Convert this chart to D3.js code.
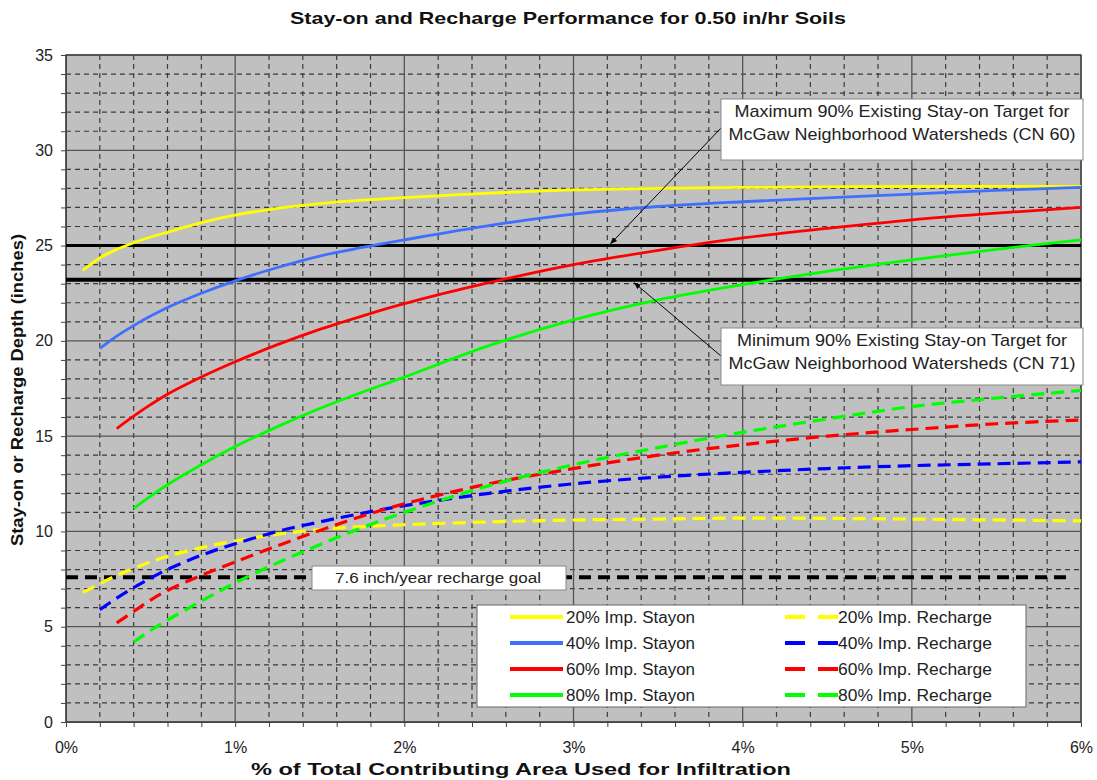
<!DOCTYPE html>
<html>
<head>
<meta charset="utf-8">
<script src="https://cdn.jsdelivr.net/npm/d3@7"></script>
<style>
  body { margin: 0; background: #fff; }
  svg { font-family: "Liberation Sans", Arial, sans-serif; }
</style>
</head>
<body>
<svg id="chart" width="1097" height="780"></svg>
<script>
// area used for infiltration, in %
var xStay20 = [0.1, 0.2, 0.3, 0.4, 0.5, 0.6, 0.8, 1.0, 1.25, 1.5, 1.75, 2.0, 2.5, 3.0, 3.5, 4.0, 5.0, 6.0],
    stay20  = [23.7, 24.35, 24.8, 25.15, 25.45, 25.7, 26.2, 26.6, 26.95, 27.2, 27.38, 27.52, 27.75, 27.92, 28.0, 28.05, 28.1, 28.1];

var xStay40 = [0.2, 0.3, 0.4, 0.5, 0.6, 0.8, 1.0, 1.25, 1.5, 1.75, 2.0, 2.5, 3.0, 3.5, 4.0, 4.5, 5.0, 5.5, 6.0],
    stay40  = [19.6, 20.25, 20.8, 21.3, 21.75, 22.5, 23.15, 23.85, 24.45, 24.9, 25.3, 26.05, 26.65, 27.05, 27.3, 27.5, 27.7, 27.9, 28.05];

var xStay60 = [0.3, 0.4, 0.5, 0.6, 0.8, 1.0, 1.25, 1.5, 1.75, 2.0, 2.5, 3.0, 3.5, 4.0, 4.5, 5.0, 5.5, 6.0],
    stay60  = [15.4, 16.05, 16.65, 17.2, 18.1, 18.9, 19.8, 20.6, 21.3, 21.95, 23.05, 24.0, 24.75, 25.4, 25.9, 26.35, 26.7, 27.0];

var xStay80 = [0.4, 0.5, 0.6, 0.8, 1.0, 1.25, 1.5, 1.75, 2.0, 2.5, 3.0, 3.5, 4.0, 4.5, 5.0, 5.5, 6.0],
    stay80  = [11.2, 11.85, 12.45, 13.5, 14.45, 15.5, 16.45, 17.3, 18.1, 19.75, 21.1, 22.15, 22.95, 23.65, 24.25, 24.8, 25.3];

var xRech20 = [0.1, 0.2, 0.3, 0.4, 0.5, 0.6, 0.8, 1.0, 1.25, 1.5, 1.75, 2.0, 2.5, 3.0, 3.5, 4.0, 5.0, 6.0],
    rech20  = [6.8, 7.25, 7.7, 8.05, 8.4, 8.7, 9.15, 9.5, 9.85, 10.1, 10.25, 10.35, 10.5, 10.6, 10.65, 10.7, 10.65, 10.55];

var xRech40 = [0.2, 0.3, 0.4, 0.5, 0.6, 0.8, 1.0, 1.25, 1.5, 1.75, 2.0, 2.5, 3.0, 3.5, 4.0, 4.5, 5.0, 5.5, 6.0],
    rech40  = [5.9, 6.5, 7.05, 7.55, 8.0, 8.75, 9.35, 10.0, 10.5, 10.95, 11.35, 12.0, 12.5, 12.85, 13.1, 13.3, 13.45, 13.55, 13.65];

var xRech60 = [0.3, 0.4, 0.5, 0.6, 0.8, 1.0, 1.25, 1.5, 1.75, 2.0, 2.5, 3.0, 3.5, 4.0, 4.5, 5.0, 5.5, 6.0],
    rech60  = [5.2, 5.8, 6.4, 6.9, 7.7, 8.4, 9.25, 10.05, 10.8, 11.45, 12.5, 13.3, 14.0, 14.55, 15.0, 15.35, 15.65, 15.85];

var xRech80 = [0.4, 0.5, 0.6, 0.8, 1.0, 1.25, 1.5, 1.75, 2.0, 2.5, 3.0, 3.5, 4.0, 4.5, 5.0, 5.5, 6.0],
    rech80  = [4.2, 4.8, 5.35, 6.35, 7.3, 8.35, 9.3, 10.2, 11.0, 12.4, 13.5, 14.4, 15.2, 15.9, 16.55, 17.0, 17.4];

var targetMax = 25.0,      // CN 60
    targetMin = 23.2,      // CN 71
    rechargeGoal = 7.6,
    goalEnd = 5.95;

var xTicks = [0, 1, 2, 3, 4, 5, 6],
    yTicks = [0, 5, 10, 15, 20, 25, 30, 35];

var seriesNames = ["20% Imp. Stayon", "40% Imp. Stayon", "60% Imp. Stayon", "80% Imp. Stayon",
                   "20% Imp. Recharge", "40% Imp. Recharge", "60% Imp. Recharge", "80% Imp. Recharge"];

var series = [
    { name: seriesNames[0], xs: xStay20, ys: stay20, color: "#ffff00", dash: null },
    { name: seriesNames[1], xs: xStay40, ys: stay40, color: "#3f6fff", dash: null },
    { name: seriesNames[2], xs: xStay60, ys: stay60, color: "#ff0000", dash: null },
    { name: seriesNames[3], xs: xStay80, ys: stay80, color: "#00ff00", dash: null },
    { name: seriesNames[4], xs: xRech20, ys: rech20, color: "#ffff00", dash: "13,7" },
    { name: seriesNames[5], xs: xRech40, ys: rech40, color: "#0000ff", dash: "13,7" },
    { name: seriesNames[6], xs: xRech60, ys: rech60, color: "#ff0000", dash: "13,7" },
    { name: seriesNames[7], xs: xRech80, ys: rech80, color: "#00ff00", dash: "13,7" }
];

var svg = d3.select("#chart"),
    plotL = 66, plotR = 1081, plotT = 55, plotB = 722;

var x = d3.scaleLinear().domain([0, 6]).range([plotL, plotR]),
    y = d3.scaleLinear().domain([0, 35]).range([plotB, plotT]);

svg.append("rect")
    .attr("x", plotL).attr("y", plotT)
    .attr("width", plotR - plotL).attr("height", plotB - plotT)
    .attr("fill", "#c0c0c0");

// minor grid (dashed)
var minorX = d3.range(0, 31).map(function (i) { return i * 0.2; }).filter(function (v, i) { return i % 5 !== 0; }),
    minorY = d3.range(0, 36).filter(function (v) { return v % 5 !== 0; });

svg.append("g").selectAll("line").data(minorX).join("line")
    .attr("x1", function (d) { return x(d); }).attr("x2", function (d) { return x(d); })
    .attr("y1", plotT).attr("y2", plotB)
    .attr("stroke", "#3a3a3a").attr("stroke-width", 1.2).attr("stroke-dasharray", "5,4");

svg.append("g").selectAll("line").data(minorY).join("line")
    .attr("x1", plotL).attr("x2", plotR)
    .attr("y1", function (d) { return y(d); }).attr("y2", function (d) { return y(d); })
    .attr("stroke", "#3a3a3a").attr("stroke-width", 1.2).attr("stroke-dasharray", "5,4");

// major grid (solid)
svg.append("g").selectAll("line").data(xTicks).join("line")
    .attr("x1", function (d) { return x(d); }).attr("x2", function (d) { return x(d); })
    .attr("y1", plotT).attr("y2", plotB)
    .attr("stroke", "#555").attr("stroke-width", 1.3);

svg.append("g").selectAll("line").data(yTicks).join("line")
    .attr("x1", plotL).attr("x2", plotR)
    .attr("y1", function (d) { return y(d); }).attr("y2", function (d) { return y(d); })
    .attr("stroke", "#555").attr("stroke-width", 1.3);

svg.append("rect")
    .attr("x", plotL).attr("y", plotT)
    .attr("width", plotR - plotL).attr("height", plotB - plotT)
    .attr("fill", "none").attr("stroke", "#444").attr("stroke-width", 1.3);

// axes
var yAxis = d3.axisLeft(y).tickValues(d3.range(0, 36)).tickSize(5)
    .tickFormat(function (d) { return d % 5 === 0 ? d : ""; });
var gy = svg.append("g").attr("transform", "translate(" + plotL + ",0)").call(yAxis);
gy.select(".domain").attr("stroke", "#444");
gy.selectAll(".tick line").attr("stroke", "#444");
gy.selectAll(".tick text").attr("font-size", 16).attr("fill", "#222").attr("x", -13);

var xAxis = d3.axisBottom(x).tickValues(d3.range(0, 31).map(function (i) { return i * 0.2; })).tickSize(5)
    .tickFormat(function (d) { return Math.abs(d - Math.round(d)) < 1e-6 ? Math.round(d) + "%" : ""; });
var gx = svg.append("g").attr("transform", "translate(0," + plotB + ")").call(xAxis);
gx.select(".domain").attr("stroke", "#444");
gx.selectAll(".tick line").attr("stroke", "#444");
gx.selectAll(".tick text").attr("font-size", 16).attr("fill", "#222").attr("y", 20);

// target lines
svg.append("line")
    .attr("x1", plotL).attr("x2", plotR).attr("y1", y(targetMax)).attr("y2", y(targetMax))
    .attr("stroke", "#000").attr("stroke-width", 3);
svg.append("line")
    .attr("x1", plotL).attr("x2", plotR).attr("y1", y(targetMin)).attr("y2", y(targetMin))
    .attr("stroke", "#000").attr("stroke-width", 4);
svg.append("line")
    .attr("x1", plotL).attr("x2", x(goalEnd)).attr("y1", y(rechargeGoal)).attr("y2", y(rechargeGoal))
    .attr("stroke", "#000").attr("stroke-width", 4).attr("stroke-dasharray", "12,7");

// curves
var line = d3.line()
    .x(function (d) { return x(d[0]); })
    .y(function (d) { return y(d[1]); })
    .curve(d3.curveCatmullRom.alpha(0.5));

svg.append("g").selectAll("path").data(series).join("path")
    .attr("d", function (s) { return line(d3.zip(s.xs, s.ys)); })
    .attr("fill", "none")
    .attr("stroke", function (s) { return s.color; })
    .attr("stroke-width", function (s) { return s.dash ? 3.2 : 2.8; })
    .attr("stroke-dasharray", function (s) { return s.dash; });

// callouts
svg.append("defs").append("marker")
    .attr("id", "arrow").attr("viewBox", "0 0 10 10").attr("refX", 9).attr("refY", 5)
    .attr("markerWidth", 7).attr("markerHeight", 7).attr("orient", "auto")
    .append("path").attr("d", "M0,1L10,5L0,9Z").attr("fill", "#000");

function callout(bx, by, bw, bh, lines, lens, fromY, toX, toY) {
    svg.append("line")
        .attr("x1", bx).attr("y1", fromY).attr("x2", toX).attr("y2", toY)
        .attr("stroke", "#000").attr("stroke-width", 1).attr("marker-end", "url(#arrow)");
    svg.append("rect").attr("x", bx).attr("y", by).attr("width", bw).attr("height", bh)
        .attr("fill", "#fff").attr("stroke", "#888").attr("stroke-width", 1);
    svg.append("g").selectAll("text").data(lines).join("text")
        .attr("x", bx + bw / 2).attr("y", function (d, i) { return by + 18 + i * 23; })
        .attr("text-anchor", "middle").attr("font-size", 17).attr("fill", "#222")
        .attr("textLength", function (d, i) { return lens[i]; })
        .attr("lengthAdjust", "spacingAndGlyphs")
        .text(function (d) { return d; });
}

callout(721, 99, 362, 61,
    ["Maximum 90% Existing Stay-on Target for", "McGaw Neighborhood Watersheds (CN 60)"], [335, 347],
    128, x(3.22), y(targetMax) - 2);
callout(721, 328, 362, 57,
    ["Minimum 90% Existing Stay-on Target for", "McGaw Neighborhood Watersheds (CN 71)"], [330, 347],
    356, x(3.36), y(targetMin) + 3);
svg.append("rect").attr("x", 312).attr("y", 566).attr("width", 254).attr("height", 24)
    .attr("fill", "#fff").attr("stroke", "#888").attr("stroke-width", 1);
svg.append("text").attr("x", 438).attr("y", 583).attr("text-anchor", "middle")
    .attr("font-size", 15.5).attr("fill", "#222")
    .attr("textLength", 206).attr("lengthAdjust", "spacingAndGlyphs")
    .text("7.6 inch/year recharge goal");

// legend
var lg = svg.append("g");
lg.append("rect").attr("x", 477).attr("y", 605).attr("width", 549).attr("height", 102)
    .attr("fill", "#fff").attr("stroke", "#666").attr("stroke-width", 1);

var items = lg.selectAll("g.item").data(series).join("g")
    .attr("class", "item")
    .attr("transform", function (s, i) {
        var col = i < 4 ? 0 : 1, row = i % 4;
        return "translate(" + (col ? 785 : 510) + "," + (617 + row * 26) + ")";
    });
items.append("line")
    .attr("x1", 0).attr("x2", 53).attr("y1", 0).attr("y2", 0)
    .attr("stroke", function (s) { return s.color; })
    .attr("stroke-width", 4)
    .attr("stroke-dasharray", function (s) { return s.dash ? "20,13" : null; });
items.append("text")
    .attr("x", function (s) { return s.dash ? 53 : 56; }).attr("y", 6)
    .attr("font-size", 16).attr("fill", "#222")
    .attr("textLength", function (s) { return s.dash ? 154 : 129; })
    .attr("lengthAdjust", "spacingAndGlyphs")
    .text(function (s) { return s.name; });

// titles
svg.append("text").attr("x", 568).attr("y", 24).attr("text-anchor", "middle")
    .attr("font-size", 17).attr("font-weight", "bold").attr("fill", "#111")
    .attr("textLength", 556).attr("lengthAdjust", "spacingAndGlyphs")
    .text("Stay-on and Recharge Performance for 0.50 in/hr Soils");
svg.append("text").attr("x", 521).attr("y", 775).attr("text-anchor", "middle")
    .attr("font-size", 17).attr("font-weight", "bold").attr("fill", "#111")
    .attr("textLength", 540).attr("lengthAdjust", "spacingAndGlyphs")
    .text("% of Total Contributing Area Used for Infiltration");
svg.append("text").attr("transform", "translate(23," + 390 + ") rotate(-90)")
    .attr("text-anchor", "middle")
    .attr("font-size", 17).attr("font-weight", "bold").attr("fill", "#111")
    .attr("textLength", 312).attr("lengthAdjust", "spacingAndGlyphs")
    .text("Stay-on or Recharge Depth (inches)");
</script>
</body>
</html>
